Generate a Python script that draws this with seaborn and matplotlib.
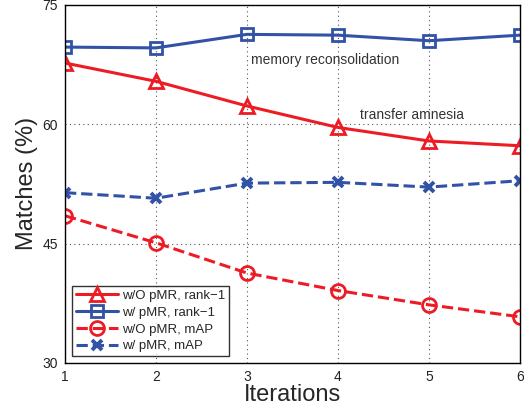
import matplotlib
matplotlib.use("Agg")
import matplotlib.pyplot as plt
import seaborn as sns
import numpy as np

iterations = [1, 2, 3, 4, 5, 6]
wo_rank1 = [67.7, 65.4, 62.3, 59.6, 57.9, 57.3]
w_rank1 = [69.7, 69.6, 71.3, 71.2, 70.5, 71.2]
wo_map = [48.5, 45.1, 41.3, 39.1, 37.3, 35.8]
w_map = [51.4, 50.7, 52.6, 52.7, 52.1, 52.9]
labels = ["w/O pMR, rank\u22121", "w/ pMR, rank\u22121", "w/O pMR, mAP", "w/ pMR, mAP"]
yticks = [30, 45, 60, 75]

sns.set_style("white")
plt.rcParams['font.family'] = ['Liberation Sans', 'DejaVu Sans']

red = "#ED1C24"
blue = "#3152A6"

fig = plt.figure(figsize=(5.24, 4.11), dpi=100)
ax = fig.add_axes([0.124, 0.117, 0.868, 0.871])

specs = [
    (wo_rank1, red, '-', '^', 'none', 10, 2.2, 2.0),
    (w_rank1, blue, '-', 's', 'none', 8.5, 2.2, 2.0),
    (wo_map, red, '--', 'o', 'none', 10, 2.2, 2.0),
    (w_map, blue, '--', 'x', blue, 7, 2.2, 2.8),
]
for (vals, c, ls, m, mfc, ms, lw, mew), lab in zip(specs, labels):
    sns.lineplot(x=iterations, y=vals, ax=ax, color=c, linestyle=ls, marker=m,
                 markerfacecolor=mfc, markeredgecolor=c, markersize=ms,
                 markeredgewidth=mew, linewidth=lw, label=lab,
                 dashes=(3.5, 3) if ls == '--' else None)

ax.set_xlim(1, 6)
ax.set_ylim(30, 75)
ax.set_xticks(iterations)
ax.set_yticks(yticks)
ax.grid(True, linestyle=(0, (1, 3)), color='#555555', linewidth=0.8)
ax.tick_params(direction='in', labelsize=10, length=4, colors='#222222', pad=5)
for s in ax.spines.values():
    s.set_color('black')
    s.set_linewidth(1.0)
ax.set_xlabel("Iterations", fontsize=17, labelpad=0)
ax.set_ylabel("Matches (%)", fontsize=17, labelpad=3)

ax.text(3.04, 68.1, "memory reconsolidation", fontsize=10, color='#333333', ha='left', va='center')
ax.text(4.24, 61.2, "transfer amnesia", fontsize=10, color='#333333', ha='left', va='center')

leg = ax.legend(loc='lower left', fontsize=9.5, frameon=True, fancybox=False,
                edgecolor='black', borderpad=0.3, labelspacing=0.35,
                handlelength=3.2, handletextpad=0.3, borderaxespad=0.5)
leg.get_frame().set_linewidth(1.0)

fig.savefig("out.png", dpi=100)
